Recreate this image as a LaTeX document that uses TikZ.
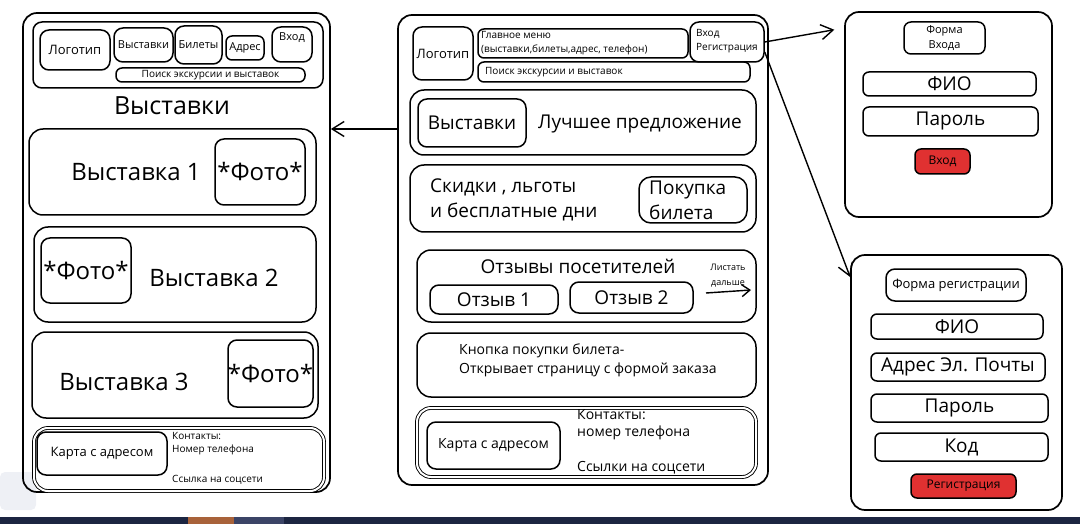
\documentclass[tikz,border=0pt]{standalone}
\usepackage{fontspec}
\setmainfont{Open Sans}
\usetikzlibrary{fit, arrows.meta}
\definecolor{btnred}{HTML}{E03131}
\definecolor{barblue}{HTML}{1C2541}
\definecolor{barorange}{HTML}{A8623A}
\definecolor{barmid}{HTML}{3B4466}
\definecolor{iconbg}{HTML}{EEF0F5}

\begin{document}
\begin{tikzpicture}[x=1pt, y=-1pt,
  frame/.style={draw, line width=1.7pt, rounded corners=14pt, inner sep=0pt},
  box/.style={draw, line width=1.5pt, rounded corners=9pt, inner sep=0pt},
  wide/.style={box, rounded corners=14pt},
  dbl/.style={wide, double, line width=0.9pt, double distance=2pt},
  field/.style={draw, line width=1.5pt, rounded corners=6pt, inner sep=0pt},
  redbtn/.style={field, fill=btnred},
  lbl/.style={anchor=west, inner sep=0pt, align=left},
  sz9/.style={font=\fontsize{9}{15}\selectfont},
  sz10/.style={font=\fontsize{10}{14}\selectfont},
  sz11/.style={font=\fontsize{11}{15}\selectfont},
  sz12/.style={font=\fontsize{12}{15}\selectfont},
  sz13/.style={font=\fontsize{13}{16}\selectfont},
  sz14/.style={font=\fontsize{14}{19}\selectfont},
  sz19/.style={font=\fontsize{19}{25}\selectfont},
  sz24/.style={font=\fontsize{24}{28}\selectfont},
  link/.style={line width=1.4pt, -{Straight Barb[length=12pt, width=15pt]}},
  nextlink/.style={line width=1.4pt, -{Straight Barb[length=8pt, width=12pt]}}]
\useasboundingbox (0,0) rectangle (1080,524);

% screenshot edge
\fill[barblue] (0,517) rectangle (1080,524);
\fill[barorange] (188,517) rectangle (234,524);
\fill[barmid] (234,517) rectangle (284,524);
\fill[iconbg, rounded corners=5pt] (0,472) rectangle (36,510);

% exhibitions page
\node[frame, fit={(23,13) (330,492)}] (pageL) {};
\node[box, fit={(33,22) (323,88)}] (headL) {};
\node[box, fit={(40,30) (110,70)}, label={[sz13]center:Логотип}] (logoL) {};
\node[box, fit={(114,28) (173,62)}, label={[sz11]center:Выставки}] (exhibL) {};
\node[box, fit={(175,26) (222,64)}, label={[sz11]center:Билеты}] (ticketL) {};
\node[box, rounded corners=6pt, fit={(226,36) (264,60)}, label={[sz11]center:Адрес}] (addrL) {};
\node[box, fit={(272,27) (312,62)}, label={[sz11, anchor=north, yshift=-3pt]north:Вход}] (loginL) {};
\node[field, fit={(116,68) (305,82)}, label={[sz10]center:Поиск экскурсии и выставок}] (searchL) {};
\node[font=\fontsize{25}{30}\selectfont] (titleL) at (172,106) {Выставки};
\node[wide, fit={(29,129) (316,215)}] (exL1) {};
\node[sz24] (exL1txt) at (136,172) {Выставка 1};
\node[box, fit={(215,139) (305,205)}, label={[sz24]center:*Фото*}] (photoL1) {};
\node[wide, fit={(34,227) (316,322)}] (exL2) {};
\node[box, fit={(41,238) (131,303)}, label={[sz24]center:*Фото*}] (photoL2) {};
\node[sz24] (exL2txt) at (214,278) {Выставка 2};
\node[wide, fit={(32,332) (318,418)}] (exL3) {};
\node[sz24] (exL3txt) at (124,382) {Выставка 3};
\node[box, fit={(228,340) (313,407)}, label={[sz24]center:*Фото*}] (photoL3) {};
\node[dbl, fit={(34,428) (324,491)}] (footL) {};
\node[box, fit={(37,432) (167,475)}, label={[sz13]center:Карта с адресом}] (mapL) {};
\node[lbl, sz10] (contL) at (172,436) {Контакты:};
\node[lbl, sz10] (phoneL) at (172,450) {Номер телефона};
\node[lbl, sz10] (socL) at (172,480) {Ссылка на соцсети};

% main page
\node[frame, fit={(398,15) (768,485)}] (pageM) {};
\node[box, fit={(413,27) (473,80)}, label={[sz13]center:Логотип}] (logoM) {};
\node[box, rounded corners=6pt, fit={(478,29) (688,58)}] (menuM) {};
\node[lbl, sz10] (menuMtxt) at (481,43) {Главное меню\\(выставки,билеты,адрес, телефон)};
\node[box, fit={(690,22) (764,62)}] (authM) {};
\node[lbl, sz10] (authMtxt) at (696,41) {Вход\\Регистрация};
\node[field, fit={(478,62) (750,82)}] (searchM) {};
\node[lbl, sz10] (searchMtxt) at (485,72) {Поиск экскурсии и выставок};
\node[wide, fit={(410,90) (756,155)}] (bestM) {};
\node[box, fit={(418,99) (526,147)}, label={[sz19]center:Выставки}] (exhibM) {};
\node[sz19] (bestMtxt) at (640,124) {Лучшее предложение};
\node[wide, fit={(410,165) (756,232)}] (saleM) {};
\node[lbl, sz19] (saleMtxt) at (430,200) {Скидки , льготы\\и бесплатные дни};
\node[box, rounded corners=12pt, fit={(639,177) (747,223)}] (buyM) {};
\node[lbl, sz19] (buyMtxt) at (649,200) {Покупка\\билета};
\node[wide, fit={(417,250) (756,322)}] (revM) {};
\node[sz19] (revMtxt) at (578,266) {Отзывы посетителей};
\node[box, fit={(430,285) (558,314)}, label={[sz19]center:Отзыв 1}] (rev1M) {};
\node[box, fit={(570,282) (693,313)}, label={[sz19]center:Отзыв 2}] (rev2M) {};
\node[sz9, align=center] (nextM) at (728,276) {Листать\\дальше};
\coordinate (nextA) at (706,293);
\coordinate (nextB) at (751,290);
\draw[nextlink] (nextA) -- (nextB);
\node[wide, fit={(417,333) (756,397)}] (orderM) {};
\node[lbl, sz14] (orderMtxt) at (459,360) {Кнопка покупки билета-\\Открывает страницу с формой заказа};
\node[dbl, fit={(417,408) (756,477)}] (footM) {};
\node[box, fit={(427,422) (560,469)}, label={[sz14]center:Карта с адресом}] (mapM) {};
\node[lbl, sz14] (contM) at (577,415) {Контакты:};
\node[lbl, sz14] (phoneM) at (577,433) {номер телефона};
\node[lbl, sz14] (socM) at (577,468) {Ссылки на соцсети};

% login form
\node[frame, fit={(845,12) (1052,217)}] (pageIn) {};
\node[box, rounded corners=7pt, fit={(904,22) (985,54)}, label={[sz11, align=center]center:Форма\\Входа}] (formIn) {};
\node[field, fit={(863,72) (1036,96)}, label={[sz19]center:ФИО}] (nameIn) {};
\node[field, fit={(863,107) (1038,136)}, label={[sz19]center:Пароль}] (passIn) {};
\node[redbtn, fit={(915,149) (970,174)}, label={[sz12]center:Вход}] (btnIn) {};

% registration form
\node[frame, fit={(851,255) (1062,510)}] (pageReg) {};
\node[box, fit={(886,269) (1026,301)}, label={[sz13]center:Форма регистрации}] (formReg) {};
\node[field, fit={(871,314) (1043,339)}, label={[sz19]center:ФИО}] (nameReg) {};
\node[field, fit={(871,353) (1045,381)}, label={[sz19]center:Адрес Эл. Почты}] (mailReg) {};
\node[field, fit={(871,394) (1048,422)}, label={[sz19]center:Пароль}] (passReg) {};
\node[field, fit={(875,433) (1048,461)}, label={[sz19]center:Код}] (codeReg) {};
\node[redbtn, fit={(911,474) (1016,498)}, label={[sz12]center:Регистрация}] (btnReg) {};

% transitions
\draw[link] (pageM.west |- 0,129) -- (pageL.east |- 0,129);
\draw[link, shorten >=10pt] (authM.east) -- (pageIn.west |- 0,28);
\draw[link] ([yshift=-10pt]authM.east) -- (pageReg.west |- 0,277);
\end{tikzpicture}
\end{document}
